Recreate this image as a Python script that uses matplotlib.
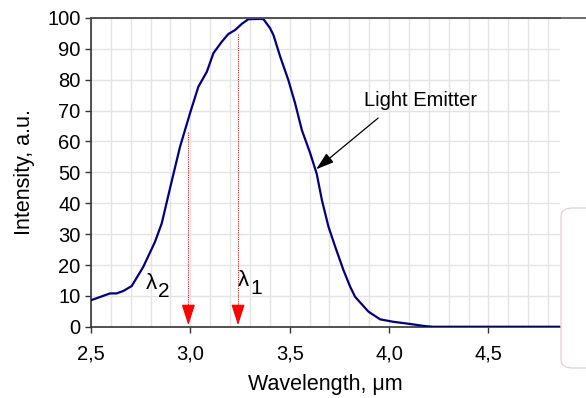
import numpy as np
import matplotlib.pyplot as plt
from matplotlib.patches import FancyBboxPatch
from matplotlib.lines import Line2D
from matplotlib.transforms import offset_copy

plt.rcParams['font.family'] = ['Liberation Sans', 'DejaVu Sans']

# Emission spectrum
wavelength = [2.50, 2.596, 2.629, 2.663, 2.705, 2.763, 2.822, 2.856, 2.90,
              2.948, 2.998, 3.040, 3.083, 3.116, 3.158, 3.191, 3.225, 3.259,
              3.292, 3.351, 3.368, 3.401, 3.418, 3.452, 3.493, 3.527, 3.561,
              3.603, 3.636, 3.662, 3.695, 3.729, 3.770, 3.804, 3.829, 3.896,
              3.955, 4.022, 4.106, 4.182, 4.22, 4.86]
intensity = [8.6, 10.8, 10.8, 11.6, 13.2, 19.4, 27.5, 33.5, 45.5,
             58.3, 69.1, 77.7, 82.6, 88.6, 92.3, 94.8, 96.1, 98.1,
             99.6, 99.7, 99.6, 96.7, 94.5, 87.5, 79.9, 72.4, 63.7,
             56.2, 49.5, 41.0, 32.4, 25.9, 18.4, 13.0, 9.7, 4.9,
             2.4, 1.6, 0.9, 0.2, 0.0, 0.0]

# marker wavelengths (x, top of dotted line)
lambda_x = [3.24, 2.99]
lambda_top = [94.7, 63.2]
lambda_subs = ['1', '2']
lambda_label_pos = [(3.238, 15.0), (2.774, 14.0)]

xticks = [2.5, 3.0, 3.5, 4.0, 4.5]
xtick_labels = ['2,5', '3,0', '3,5', '4,0', '4,5']
yticks = list(range(0, 101, 10))

fig = plt.figure(figsize=(5.86, 3.98), dpi=100)
ax = fig.add_axes([0.1553, 0.179, 0.8003, 0.7758])

ax.set_xlim(2.5, 4.86)
ax.set_ylim(0, 100)

ax.set_xticks(np.arange(2.5, 4.86, 0.1), minor=True)
ax.grid(True, which='both', axis='x', color='#e4e4e4', lw=1)
ax.grid(True, which='major', axis='y', color='#e4e4e4', lw=1)
ax.set_axisbelow(True)

ax.plot(wavelength, intensity, color='#000080', lw=1.6, zorder=3)

for x, top in zip(lambda_x, lambda_top):
    ax.plot([x, x], [top, 5], color='red', lw=0.8, ls=(0, (1, 1)), zorder=2)
    ax.annotate('', xy=(x, 0.5), xytext=(x, 7),
                arrowprops=dict(arrowstyle='-|>,head_length=1.3,head_width=0.42',
                                color='red', lw=0.8, shrinkA=0, shrinkB=0))

# lambda with a full-size lowered index, as in the source
for sub, (lx, ly) in zip(lambda_subs, lambda_label_pos):
    ax.text(lx, ly, '\u03bb', fontsize=16, ha='left', va='center')
    tr = offset_copy(ax.transData, fig=fig, x=9, y=-6, units='points')
    ax.text(lx, ly, sub, fontsize=15, ha='left', va='center', transform=tr)

ax.text(4.16, 73.4, 'Light Emitter', fontsize=14.5, ha='center', va='center')
ax.annotate('', xy=(3.633, 51.0), xytext=(3.945, 67.6),
            arrowprops=dict(arrowstyle='-|>,head_length=1.1,head_width=0.35',
                            color='black', lw=0.9, shrinkA=0, shrinkB=0))

ax.set_xticks(xticks)
ax.set_xticklabels(xtick_labels)
ax.set_yticks(yticks)
ax.tick_params(axis='both', which='major', labelsize=14.5, length=4,
               width=1, color='#333333', direction='out')
ax.tick_params(axis='x', which='major', pad=9)
ax.tick_params(axis='both', which='minor', length=0)

for side in ['left', 'bottom', 'top']:
    ax.spines[side].set_color('#333333')
    ax.spines[side].set_linewidth(1.2)
ax.spines['right'].set_visible(False)

# top border runs on to the right edge
fig.add_artist(Line2D([0.1553, 1.0], [0.9548, 0.9548], color='#555555', lw=1.2))

# faint leftover box at the right edge
fig.add_artist(FancyBboxPatch((561 / 586, 30 / 398), 0.1, 160 / 398,
                              boxstyle='round,pad=0,rounding_size=0.02',
                              fc='none', ec='#f0c4c8', lw=0.8))

ax.set_xlabel('Wavelength, \u03bcm', fontsize=15.5, labelpad=7)
ax.set_ylabel('Intensity, a.u.', fontsize=15.5, labelpad=9)

fig.savefig('out.png', dpi=100)
plt.close()
